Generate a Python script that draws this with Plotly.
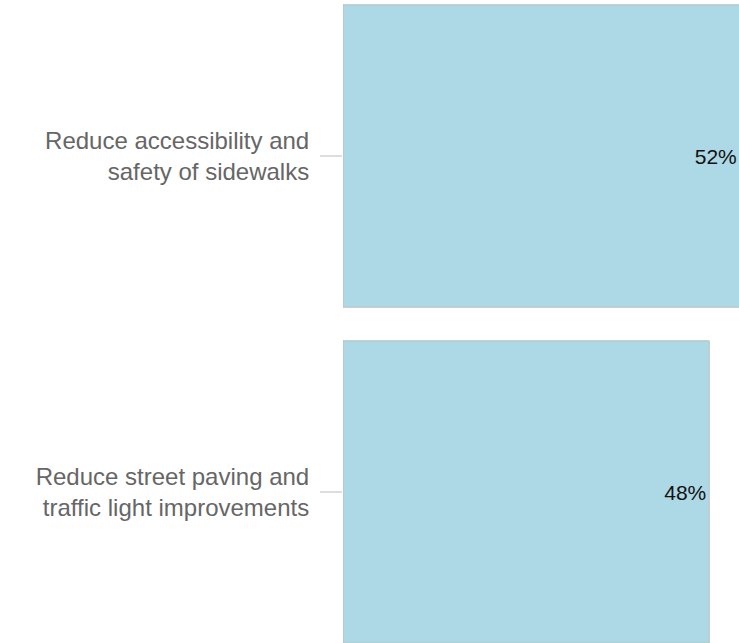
import plotly.graph_objects as go

categories = ["Reduce accessibility and<br>safety of sidewalks",
              "Reduce street paving and<br>traffic light improvements"]
values = [52, 48]
labels = ["52%", "48%"]

fig = go.Figure(go.Bar(
    x=values, y=categories, orientation="h",
    text=labels, textposition="inside", insidetextanchor="end",
    textfont=dict(family="Liberation Sans, Arial, sans-serif", size=21, color="#111111"),
    marker=dict(color="#ADD8E6", line=dict(color="#BDBDBD", width=1)),
    hoverinfo="skip",
))

fig.update_layout(
    width=739, height=643,
    margin=dict(l=343, r=0, t=0, b=0),
    paper_bgcolor="white", plot_bgcolor="white",
    bargap=0.1, showlegend=False,
    xaxis=dict(range=[0, 51.9], visible=False, fixedrange=True),
    yaxis=dict(
        type="category", range=[1.4494, -0.4643], fixedrange=True,
        ticks="outside", ticklen=22, tickwidth=2, tickcolor="#DDDDDD",
        ticklabelstandoff=6,
        showline=False, showgrid=False,
        tickfont=dict(family="Liberation Sans, Arial, sans-serif", size=24, color="#666666"),
    ),
)

fig.write_html(
    "out.html",
    config={"displayModeBar": False},
    post_script="document.body.style.margin='0';document.body.style.overflow='hidden';",
)
